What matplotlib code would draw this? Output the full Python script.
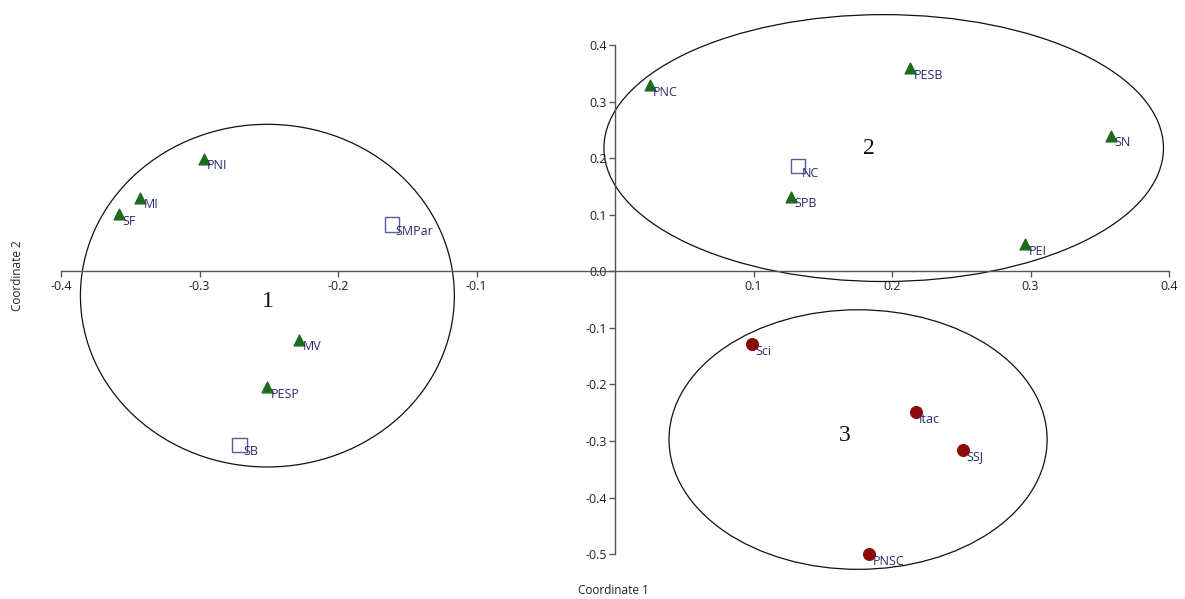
import matplotlib
matplotlib.use("Agg")
import matplotlib.pyplot as plt
from matplotlib.patches import Ellipse

# ---- data ----
tri_names = ["PNI", "MI", "SF", "MV", "PESP", "PNC", "PESB", "SN", "SPB", "PEI"]
tri_x = [-0.297, -0.343, -0.358, -0.228, -0.251, 0.025, 0.213, 0.358, 0.127, 0.296]
tri_y = [0.199, 0.130, 0.101, -0.121, -0.205, 0.329, 0.359, 0.240, 0.132, 0.048]

sq_names = ["SMPar", "SB", "NC"]
sq_x = [-0.161, -0.271, 0.132]
sq_y = [0.083, -0.307, 0.186]

circ_names = ["Sci", "Itac", "SSJ", "PNSC"]
circ_x = [0.099, 0.217, 0.2515, 0.1834]
circ_y = [-0.129, -0.249, -0.316, -0.500]

group_labels = ["1", "2", "3"]
group_cx = [-0.251, 0.194, 0.1755]
group_cy = [-0.043, 0.218, -0.2975]
group_w = [0.270, 0.404, 0.273]
group_h = [0.606, 0.472, 0.459]
group_label_x = [-0.251, 0.183, 0.166]
group_label_y = [-0.053, 0.218, -0.290]

x_ticks = [-0.4, -0.3, -0.2, -0.1, 0.1, 0.2, 0.3, 0.4]
y_ticks = [0.4, 0.3, 0.2, 0.1, 0.0, -0.1, -0.2, -0.3, -0.4, -0.5]

# ---- figure ----
plt.rcParams['font.family'] = ['Open Sans', 'DejaVu Sans']
fig = plt.figure(figsize=(11.85, 5.99), dpi=100)
ax = fig.add_axes([0.0515, 0.0467, 0.935, 0.944])
ax.set_xlim(-0.4, 0.4)
ax.set_ylim(-0.53, 0.47)

for s in ['top', 'right']:
    ax.spines[s].set_visible(False)
ax.spines['left'].set_position(('data', 0))
ax.spines['bottom'].set_position(('data', 0))
ax.spines['left'].set_bounds(-0.5, 0.4)
ax.spines['bottom'].set_bounds(-0.4, 0.4)
for s in ['left', 'bottom']:
    ax.spines[s].set_color('#555555')
    ax.spines[s].set_linewidth(1.0)

ax.set_xticks(x_ticks)
ax.set_xticklabels([f"{v:.1f}" for v in x_ticks])
ax.set_yticks(y_ticks)
ax.set_yticklabels([f"{v:.1f}" for v in y_ticks])
ax.tick_params(axis='both', direction='out', length=4, width=1.0, color='#555555',
               labelsize=9, labelcolor='#222222', pad=2)

# ellipses
for cx, cy, w, h in zip(group_cx, group_cy, group_w, group_h):
    ax.add_patch(Ellipse((cx, cy), w, h, fill=False, edgecolor='#111111',
                         linewidth=0.9, clip_on=False))

for lab, lx, ly in zip(group_labels, group_label_x, group_label_y):
    ax.text(lx, ly, lab, fontsize=17, family='Liberation Serif', color='#111111',
            ha='center', va='center')

# markers
ax.scatter(tri_x, tri_y, marker='^', s=60, color='#1e6b1e', zorder=3, clip_on=False)
ax.scatter(sq_x, sq_y, marker='s', s=110, facecolor='none', edgecolor='#5a5a9e',
           linewidth=1.0, zorder=3, clip_on=False)
ax.scatter(circ_x, circ_y, marker='o', s=70, color='#8b0a0a', zorder=3, clip_on=False)

label_color = '#2a2a6e'
for names, xs, ys in [(tri_names, tri_x, tri_y), (sq_names, sq_x, sq_y),
                      (circ_names, circ_x, circ_y)]:
    for n, x, y in zip(names, xs, ys):
        ax.annotate(n, (x, y), xytext=(2.5, -5), textcoords='offset points',
                    ha='left', va='center', fontsize=9, color=label_color, zorder=4)

fig.text(0.518, 0.015, "Coordinate 1", fontsize=8.5, color='#222222',
         ha='center', va='center')
fig.text(0.015, 0.54, "Coordinate 2", fontsize=8.5, color='#222222',
         ha='center', va='center', rotation=90)

fig.savefig("out.png", dpi=100)
